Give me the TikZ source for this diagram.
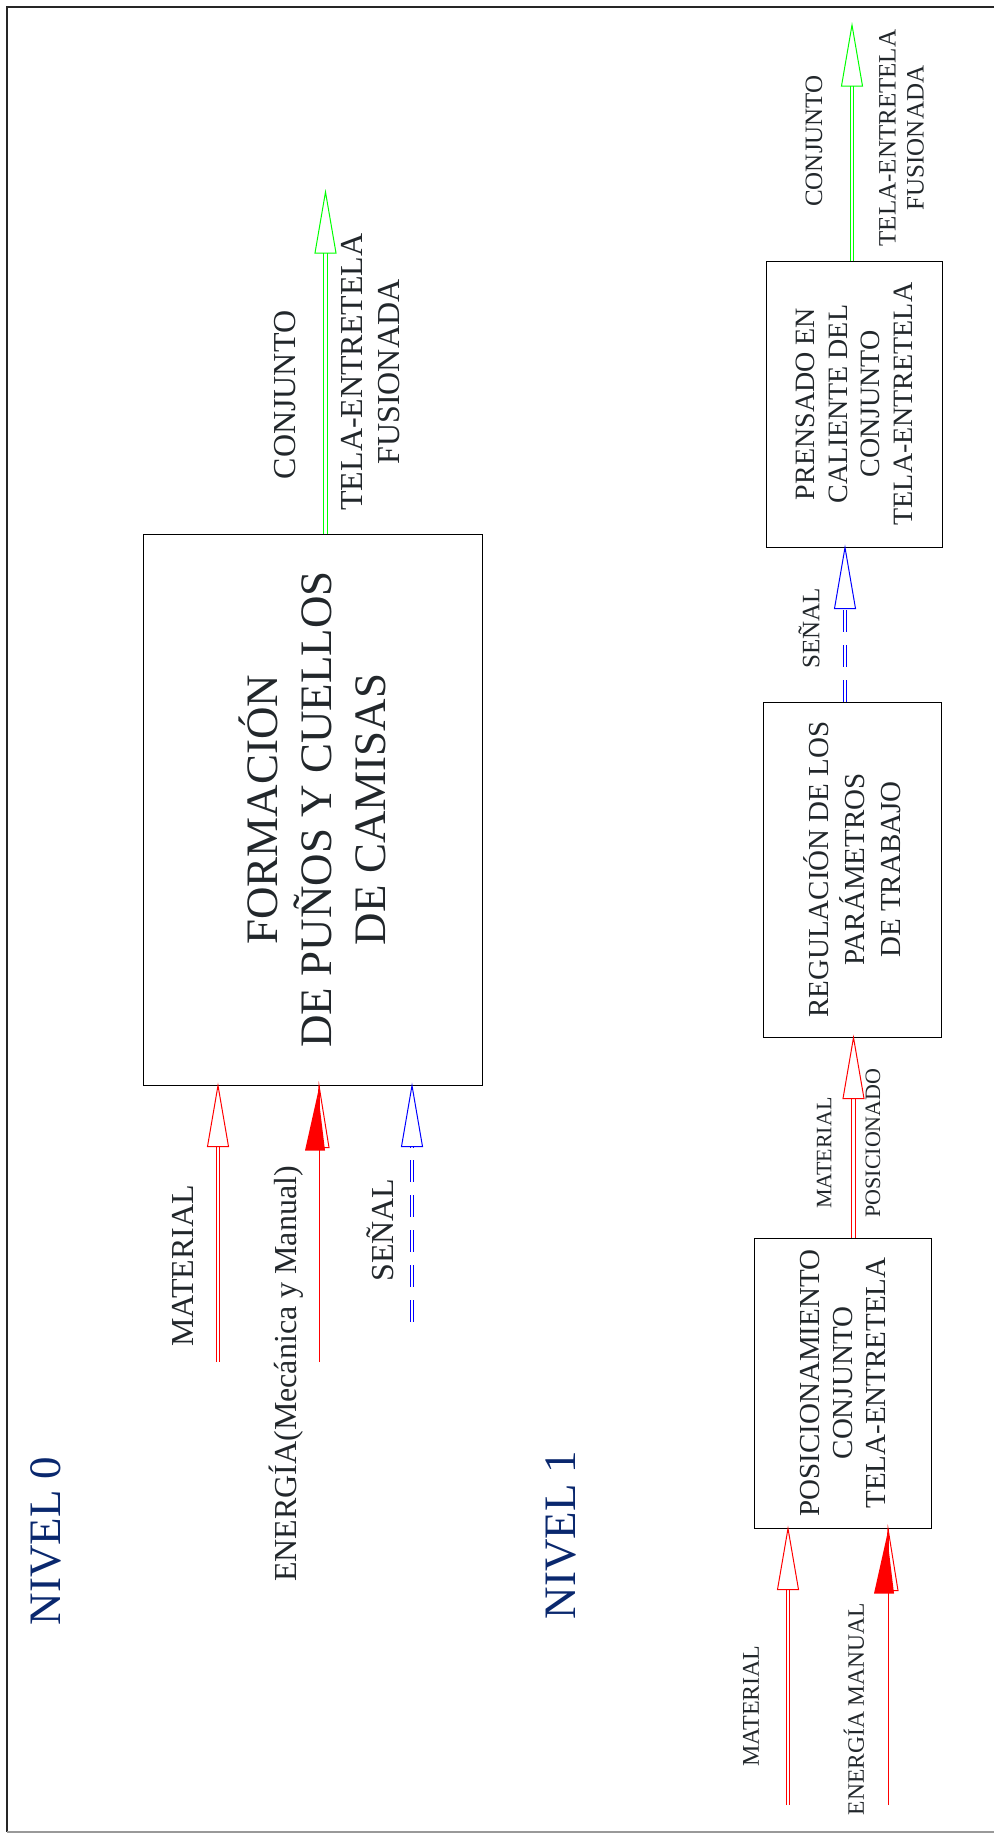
\documentclass[tikz,border=0pt]{standalone}
\usepackage{fontspec}
\setmainfont{Liberation Serif}
\definecolor{txt}{RGB}{34,39,43}
\definecolor{nivel}{RGB}{10,40,110}
\definecolor{verde}{RGB}{0,255,0}
\tikzset{
	box/.style={
		draw=black, line width=1pt,
		rotate=90,
		align=center,
		text=txt,
		inner sep=0pt},
	lbl/.style={rotate=90, align=center, text=txt, inner sep=0pt},
	titulo/.style={rotate=90, text=nivel, inner sep=0pt,
		font=\fontsize{45}{52}\selectfont},
	shaft/.style={line width=1pt, double=white, double distance=2.6pt, shorten >=61pt},
	sigshaft/.style={shaft, draw=blue, dash pattern=on 22pt off 13pt},
	pics/openhead/.style={code={
		\draw[line width=1pt] (-10.5pt,-61pt) -- (0,0) -- (10.5pt,-61pt) -- cycle;}},
	pics/energyhead/.style={code={
		\fill (-14pt,-65pt) -- (6pt,-65pt) -- (-1pt,-7pt) -- cycle;
		\draw[line width=1pt] (-4pt,-62pt) -- (0,0) -- (10pt,-62pt) -- cycle;}},
}

\begin{document}
\begin{tikzpicture}[x=1pt, y=-1pt]
	\useasboundingbox (0,0) rectangle (994,1834);
	% marco
	\draw[line width=2pt, black!85] (994,7) -- (7,7) -- (7,1832);
	\draw[line width=2pt, black!40] (7,1832) -- (994,1832);

	% nivel 0
	\node[titulo] (niv0) at (46,1541) {NIVEL 0};
	\node[box, minimum width=551, minimum height=339,
		font=\fontsize{45}{54}\selectfont] (f0) at (312.5,809.5)
		{FORMACIÓN\\DE PUÑOS Y CUELLOS\\DE CAMISAS};
	\coordinate (m0) at (218,1362);
	\coordinate (e0) at (319,1362);
	\coordinate (s0) at (412,1322);
	\coordinate (o0) at (325.5,192);
	\draw[shaft, red] (m0) -- (m0 |- f0.west);
	\pic[red] at (m0 |- f0.west) {openhead};
	\draw[red, line width=1pt] (e0) -- (e0 |- f0.west);
	\pic[red] at (e0 |- f0.west) {energyhead};
	\draw[sigshaft] (s0) -- (s0 |- f0.west);
	\pic[blue] at (s0 |- f0.west) {openhead};
	\draw[shaft, verde] (o0 |- f0.east) -- (o0);
	\pic[verde] at (o0) {openhead};
	\node[lbl, font=\fontsize{32}{38}\selectfont] (lm0) at (182.5,1266) {MATERIAL};
	\node[lbl, font=\fontsize{32}{38}\selectfont] (le0) at (286,1374) {ENERGÍA(Mecánica y Manual)};
	\node[lbl, font=\fontsize{32}{38}\selectfont] (ls0) at (380,1230) {SEÑAL};
	\node[lbl, font=\fontsize{32}{38}\selectfont] (lc0) at (285,395) {CONJUNTO};
	\node[lbl, font=\fontsize{32}{37}\selectfont] (lt0) at (371,372) {TELA-ENTRETELA\\FUSIONADA};

	% nivel 1
	\node[titulo] (niv1) at (561,1535) {NIVEL 1};
	\node[box, minimum width=290, minimum height=177,
		font=\fontsize{29}{33}\selectfont] (p1) at (842.5,1383)
		{POSICIONAMIENTO\\CONJUNTO\\TELA-ENTRETELA};
	\node[box, minimum width=335, minimum height=178,
		font=\fontsize{29}{36}\selectfont] (r1) at (852,869.5)
		{REGULACIÓN DE LOS\\PARÁMETROS\\DE TRABAJO};
	\node[box, minimum width=286, minimum height=176,
		font=\fontsize{28}{32.5}\selectfont] (h1) at (854,404)
		{PRENSADO EN\\CALIENTE DEL\\CONJUNTO\\TELA-ENTRETELA};
	\coordinate (m1) at (788,1805);
	\coordinate (e1) at (888,1805);
	\coordinate (mp1) at (853.5,1238);
	\coordinate (sg1) at (845,702);
	\coordinate (o1) at (852,25);
	\draw[shaft, red] (m1) -- (m1 |- p1.west);
	\pic[red] at (m1 |- p1.west) {openhead};
	\draw[red, line width=1pt] (e1) -- (e1 |- p1.west);
	\pic[red] at (e1 |- p1.west) {energyhead};
	\draw[shaft, red] (mp1 |- p1.east) -- (mp1 |- r1.west);
	\pic[red] at (mp1 |- r1.west) {openhead};
	\draw[sigshaft] (sg1 |- r1.east) -- (sg1 |- h1.west);
	\pic[blue] at (sg1 |- h1.west) {openhead};
	\draw[shaft, verde] (o1 |- h1.east) -- (o1);
	\pic[verde] at (o1) {openhead};
	\node[lbl, font=\fontsize{24}{28}\selectfont] (lm1) at (751,1706) {MATERIAL};
	\node[lbl, font=\fontsize{23.5}{28}\selectfont] (le1) at (854,1709) {ENERGÍA MANUAL};
	\node[lbl, font=\fontsize{22}{26}\selectfont] (lmp1) at (824,1153) {MATERIAL};
	\node[lbl, font=\fontsize{22}{26}\selectfont] (lpo1) at (873,1143) {POSICIONADO};
	\node[lbl, font=\fontsize{25}{29}\selectfont] (ls1) at (809,628) {SEÑAL};
	\node[lbl, font=\fontsize{25}{29}\selectfont] (lc1) at (814,141) {CONJUNTO};
	\node[lbl, font=\fontsize{25}{28}\selectfont] (lt1) at (901.5,138) {TELA-ENTRETELA\\FUSIONADA};
\end{tikzpicture}
\end{document}
